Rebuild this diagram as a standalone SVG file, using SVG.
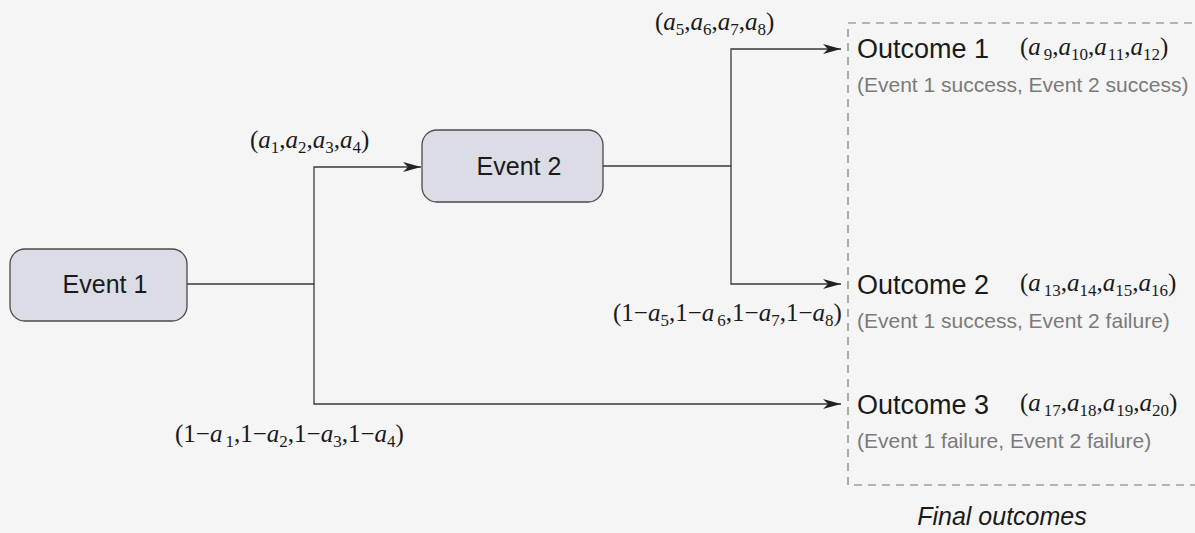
<svg xmlns="http://www.w3.org/2000/svg" width="1195" height="533" viewBox="0 0 1195 533">
<style>
.bg{fill:#f5f5f5}
.box{fill:#dcdce6;stroke:#4a4a4a;stroke-width:1.3}
.ev{font-family:"Liberation Sans",Arial,sans-serif;font-size:25px;fill:#1a1a1a}
.oc{font-family:"Liberation Sans",Arial,sans-serif;font-size:27px;fill:#1a1a1a}
.sub{font-family:"Liberation Sans",Arial,sans-serif;font-size:21px;fill:#7a7a7a}
.fin{font-family:"Liberation Sans",Arial,sans-serif;font-size:25px;font-style:italic;fill:#1a1a1a}
.m{font-family:"Liberation Serif","Times New Roman",serif;font-size:25px;fill:#1a1a1a}
.i{font-style:italic}
.s{font-size:17px}
.wire{fill:none;stroke:#3a3a3a;stroke-width:1.3}
.frame{fill:none;stroke:#777;stroke-width:1.2;stroke-dasharray:8,6}
</style>
<defs>
<marker id="ah" markerUnits="userSpaceOnUse" markerWidth="20" markerHeight="12" refX="18" refY="6" orient="auto">
<path d="M0,1 L18,6 L0,11 L5,6 z" fill="#222"/>
</marker>
</defs>
<rect class="bg" x="0" y="0" width="1195" height="533"/>
<rect class="frame" x="848" y="23" width="420" height="462"/>

<g id="connectors">
<path class="wire" d="M187,284 H314 V167 H421" marker-end="url(#ah)"/>
<path class="wire" d="M314,284 V404 H841" marker-end="url(#ah)"/>
<path class="wire" d="M603,166 H731 V49 H841" marker-end="url(#ah)"/>
<path class="wire" d="M731,166 V284 H841" marker-end="url(#ah)"/>
</g>

<g id="event1">
<rect class="box" x="10" y="249" width="177" height="72" rx="15"/>
<text class="ev" x="105" y="293" text-anchor="middle">Event 1</text>
</g>
<g id="event2">
<rect class="box" x="422" y="130" width="181" height="72" rx="15"/>
<text class="ev" x="519" y="175" text-anchor="middle">Event 2</text>
</g>

<g id="outcome1">
<text class="oc" x="857" y="58">Outcome 1</text>
<text class="m" x="1020" y="55">(<tspan class="i">a</tspan><tspan class="s" dx="3" dy="5">9</tspan><tspan dy="-5">,</tspan><tspan class="i">a</tspan><tspan class="s" dy="5">10</tspan><tspan dy="-5">,</tspan><tspan class="i">a</tspan><tspan class="s" dx="1" dy="5">11</tspan><tspan dy="-5">,</tspan><tspan class="i">a</tspan><tspan class="s" dy="5">12</tspan><tspan dy="-5">)</tspan></text>
<text class="sub" x="857" y="92">(Event 1 success, Event 2 success)</text>
</g>
<g id="outcome2">
<text class="oc" x="857" y="294">Outcome 2</text>
<text class="m" x="1020" y="291">(<tspan class="i">a</tspan><tspan class="s" dx="3" dy="5">13</tspan><tspan dy="-5">,</tspan><tspan class="i">a</tspan><tspan class="s" dy="5">14</tspan><tspan dy="-5">,</tspan><tspan class="i">a</tspan><tspan class="s" dy="5">15</tspan><tspan dy="-5">,</tspan><tspan class="i">a</tspan><tspan class="s" dy="5">16</tspan><tspan dy="-5">)</tspan></text>
<text class="sub" x="857" y="328">(Event 1 success, Event 2 failure)</text>
</g>
<g id="outcome3">
<text class="oc" x="857" y="414">Outcome 3</text>
<text class="m" x="1020" y="411">(<tspan class="i">a</tspan><tspan class="s" dx="3" dy="5">17</tspan><tspan dy="-5">,</tspan><tspan class="i">a</tspan><tspan class="s" dy="5">18</tspan><tspan dy="-5">,</tspan><tspan class="i">a</tspan><tspan class="s" dx="1" dy="5">19</tspan><tspan dy="-5">,</tspan><tspan class="i">a</tspan><tspan class="s" dy="5">20</tspan><tspan dy="-5">)</tspan></text>
<text class="sub" x="857" y="448">(Event 1 failure, Event 2 failure)</text>
</g>

<g id="labels">
<text class="m" x="250" y="148">(<tspan class="i">a</tspan><tspan class="s" dy="5">1</tspan><tspan dy="-5">,</tspan><tspan class="i">a</tspan><tspan class="s" dy="5">2</tspan><tspan dy="-5">,</tspan><tspan class="i">a</tspan><tspan class="s" dy="5">3</tspan><tspan dy="-5">,</tspan><tspan class="i">a</tspan><tspan class="s" dy="5">4</tspan><tspan dy="-5">)</tspan></text>
<text class="m" x="655" y="30">(<tspan class="i">a</tspan><tspan class="s" dy="5">5</tspan><tspan dy="-5">,</tspan><tspan class="i">a</tspan><tspan class="s" dy="5">6</tspan><tspan dy="-5">,</tspan><tspan class="i">a</tspan><tspan class="s" dy="5">7</tspan><tspan dy="-5">,</tspan><tspan class="i">a</tspan><tspan class="s" dy="5">8</tspan><tspan dy="-5">)</tspan></text>
<text class="m" x="613" y="321">(1−<tspan class="i">a</tspan><tspan class="s" dy="5">5</tspan><tspan dy="-5">,1−</tspan><tspan class="i">a</tspan><tspan class="s" dx="3" dy="5">6</tspan><tspan dy="-5">,1−</tspan><tspan class="i">a</tspan><tspan class="s" dy="5">7</tspan><tspan dy="-5">,1−</tspan><tspan class="i">a</tspan><tspan class="s" dy="5">8</tspan><tspan dy="-5">)</tspan></text>
<text class="m" x="175" y="442">(1−<tspan class="i">a</tspan><tspan class="s" dx="3" dy="5">1</tspan><tspan dy="-5">,1−</tspan><tspan class="i">a</tspan><tspan class="s" dy="5">2</tspan><tspan dy="-5">,1−</tspan><tspan class="i">a</tspan><tspan class="s" dy="5">3</tspan><tspan dy="-5">,1−</tspan><tspan class="i">a</tspan><tspan class="s" dy="5">4</tspan><tspan dy="-5">)</tspan></text>
</g>

<text class="fin" x="1002" y="525" text-anchor="middle">Final outcomes</text>
</svg>
